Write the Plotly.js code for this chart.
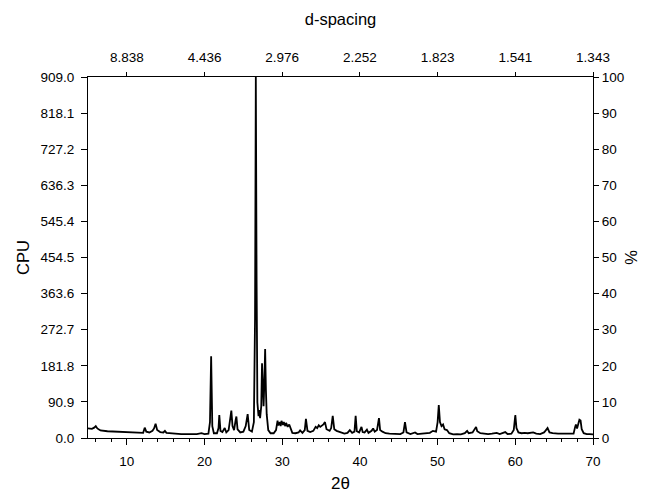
<!DOCTYPE html>
<html>
<head>
<meta charset="utf-8">
<script src="https://cdn.plot.ly/plotly-3.0.1.min.js"></script>
<style>html,body{margin:0;padding:0;background:#fff}#chart{width:648px;height:500px}</style>
</head>
<body>
<div id="chart"></div>
<script>
// 2-theta positions (degrees) and intensities (CPU)
const twoTheta = [5.0,5.5,5.8,6.0,6.2,6.6,7.5,8.5,9.5,10.5,11.5,12.1,12.3,12.5,12.9,13.3,13.5,13.7,13.9,14.3,14.7,14.9,15.1,16,17,18,19,19.6,20,20.5,20.7,20.85,21.0,21.2,21.6,21.8,21.9,22.05,22.3,22.6,22.8,23.1,23.3,23.45,23.6,23.8,24.0,24.1,24.25,24.6,25.0,25.3,25.55,25.75,26.1,26.35,26.5,26.6,26.7,26.8,26.95,27.05,27.15,27.3,27.4,27.5,27.6,27.7,27.8,27.9,28.0,28.2,28.5,28.9,29.2,29.4,29.5,29.7,29.8,29.9,30.1,30.2,30.4,30.5,30.7,30.9,31.1,31.3,31.7,32.1,32.3,32.6,32.9,33.05,33.25,33.6,34.0,34.3,34.5,34.7,34.9,35.1,35.3,35.5,35.7,36.1,36.3,36.5,36.7,37.0,37.5,38.0,38.4,38.7,39.0,39.3,39.45,39.6,39.9,40.2,40.35,40.6,40.9,41.1,41.5,41.7,41.9,42.2,42.45,42.6,42.9,43.3,43.8,44.5,45.2,45.6,45.8,46.0,46.5,47.1,47.4,48.0,48.5,49.0,49.4,49.8,50.0,50.15,50.3,50.5,50.7,50.9,51.2,51.5,52.0,52.5,53.0,53.5,53.8,54.0,54.5,54.8,54.95,55.1,55.5,56.0,56.5,57.0,57.6,58.0,58.7,59.0,59.5,59.8,60.0,60.15,60.4,60.8,61.2,61.6,62.0,62.3,62.7,63.2,63.7,64.0,64.15,64.4,64.8,65.5,66.0,66.5,67.0,67.5,67.7,67.8,67.95,68.1,68.25,68.4,68.55,68.8,69.2,69.6,70.0];
const cpu = [24,23,26,30,24,19,17,16,15,14,13,13,26,16,14,18,24,36,20,15,14,18,13,11,10,10,10,12,10,11,40,206,30,12,12,25,58,18,15,25,14,20,50,69,30,20,45,54,22,14,16,30,60,20,16,40,300,909,400,90,55,70,50,80,188,95,80,140,224,120,60,20,12,12,20,44,32,40,30,43,33,40,30,38,28,34,20,13,12,14,19,13,20,48,18,15,18,28,25,32,28,30,34,40,22,18,25,56,22,18,15,11,13,20,13,16,56,17,14,28,15,14,21,13,18,24,16,20,50,20,16,12,11,10,10,14,40,14,10,14,10,11,12,13,18,16,40,83,40,30,34,22,20,12,9,10,9,12,18,12,14,22,28,17,12,11,10,11,13,10,15,10,11,20,58,25,14,12,13,12,14,14,11,10,14,22,25,14,12,11,11,10,10,11,28,34,24,40,46,44,22,12,10,10,9];
const cpuMax = 909.0;

// tick labels
const cpuTickVals = [0,90.9,181.8,272.7,363.6,454.5,545.4,636.3,727.2,818.1,909.0];
const cpuTickText = ["0.0","90.9","181.8","272.7","363.6","454.5","545.4","636.3","727.2","818.1","909.0"];
const topTickVals = [10,20,30,40,50,60,70];
const dSpacingText = ["8.838","4.436","2.976","2.252","1.823","1.541","1.343"];

const font = {family: "Liberation Sans, Arial, sans-serif", color: "#000"};

const percent = cpu.map(v => v / cpuMax * 100);

const traces = [
  {x: twoTheta, y: cpu, type: "scatter", mode: "lines",
   line: {color: "#000", width: 1.8}, xaxis: "x", yaxis: "y", hoverinfo: "skip"},
  // same pattern in percent on the top/right axes (hidden, keeps those axes drawn)
  {x: twoTheta, y: percent, type: "scatter", mode: "lines",
   line: {color: "rgba(0,0,0,0)", width: 0}, xaxis: "x2", yaxis: "y2", hoverinfo: "skip"}
];

const layout = {
  width: 648, height: 500,
  margin: {l: 88, r: 55, t: 77, b: 62},
  paper_bgcolor: "#fff", plot_bgcolor: "#fff",
  showlegend: false,
  font: Object.assign({size: 13}, font),
  xaxis: {
    range: [5, 70], dtick: 10, tick0: 0,
    ticks: "outside", ticklen: 6, tickcolor: "#000", tickwidth: 1,
    minor: {dtick: 2, tick0: 0, ticks: "outside", ticklen: 3, tickcolor: "#000"},
    showline: true, linecolor: "#000", linewidth: 1,
    showgrid: false, zeroline: false,
    ticklabelstandoff: 5,
    tickfont: Object.assign({size: 13.5}, font),
    title: {text: "2θ", font: Object.assign({size: 17}, font), standoff: 8}
  },
  xaxis2: {
    overlaying: "x", side: "top", range: [5, 70],
    tickmode: "array", tickvals: topTickVals, ticktext: dSpacingText,
    ticks: "outside", ticklen: 4, tickcolor: "#000",
    showline: true, linecolor: "#000", linewidth: 1,
    showgrid: false, zeroline: false,
    ticklabelstandoff: 5,
    tickfont: Object.assign({size: 13.5}, font),
    title: {text: "d-spacing", font: Object.assign({size: 16.5}, font), standoff: 19}
  },
  yaxis: {
    range: [0, 909], tickmode: "array", tickvals: cpuTickVals, ticktext: cpuTickText,
    ticks: "outside", ticklen: 6, tickcolor: "#000",
    showline: true, linecolor: "#000", linewidth: 1,
    showgrid: false, zeroline: false,
    ticklabelstandoff: 4,
    tickfont: Object.assign({size: 13.5}, font),
    title: {text: "CPU", font: Object.assign({size: 16.5}, font), standoff: 6}
  },
  yaxis2: {
    overlaying: "y", side: "right", range: [0, 100], dtick: 10,
    ticks: "outside", ticklen: 5, tickcolor: "#000",
    showline: true, linecolor: "#000", linewidth: 1,
    showgrid: false, zeroline: false,
    tickfont: Object.assign({size: 13.5}, font),
    title: {text: "%", font: Object.assign({size: 16.5}, font), standoff: 2}
  }
};

Plotly.newPlot("chart", traces, layout, {staticPlot: true, displayModeBar: false});
</script>
</body>
</html>
